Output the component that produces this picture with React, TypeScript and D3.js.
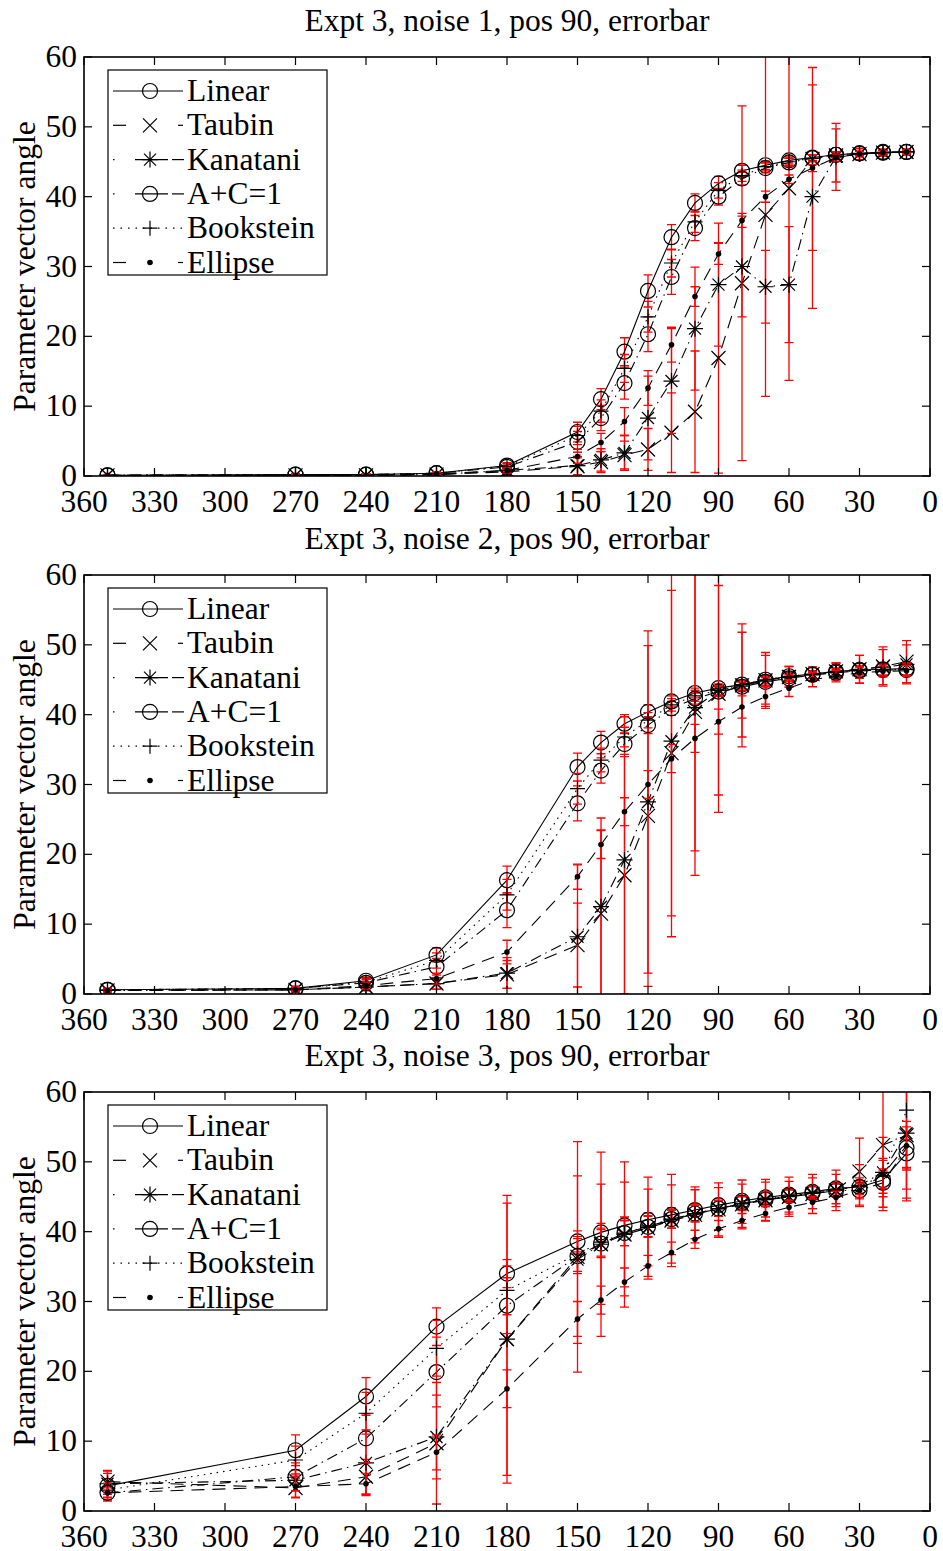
import React from "react";
import * as d3 from "d3";

const X_VALUES = [350, 270, 240, 210, 180, 150, 140, 130, 120, 110, 100, 90, 80, 70, 60, 50, 40, 30, 20, 10];
const X_TICKS = [360, 330, 300, 270, 240, 210, 180, 150, 120, 90, 60, 30, 0];
const Y_TICKS = [0, 10, 20, 30, 40, 50, 60];
const SERIES_NAMES = ["Linear", "Taubin", "Kanatani", "A+C=1", "Bookstein", "Ellipse"];
const TITLES = [
  "Expt 3, noise 1, pos 90, errorbar",
  "Expt 3, noise 2, pos 90, errorbar",
  "Expt 3, noise 3, pos 90, errorbar",
];
const Y_LABEL = "Parameter vector angle";

// ---- Panel 1 (noise 1) ----
const n1Linear = [0.1, 0.2, 0.2, 0.4, 1.5, 6.3, 11.0, 17.8, 26.5, 34.2, 39.1, 41.9, 43.7, 44.5, 45.2, 45.6, 46.0, 46.2, 46.4, 46.4];
const n1Taubin = [0.1, 0.1, 0.1, 0.2, 0.6, 1.4, 2.0, 3.0, 3.8, 6.2, 9.2, 16.9, 27.6, 37.4, 41.2, 45.4, 45.9, 46.1, 46.3, 46.4];
const n1Kanatani = [0.1, 0.1, 0.1, 0.2, 0.8, 1.5, 2.3, 3.3, 8.3, 13.6, 21.1, 27.4, 30.0, 27.1, 27.4, 40.0, 45.7, 46.1, 46.3, 46.4];
const n1AC = [0.1, 0.2, 0.2, 0.4, 1.3, 4.9, 8.3, 13.3, 20.3, 28.5, 35.5, 40.0, 42.6, 44.1, 44.9, 45.5, 46.0, 46.2, 46.3, 46.4];
const n1Bookstein = [0.1, 0.2, 0.2, 0.4, 1.4, 5.8, 9.3, 15.4, 22.8, 30.5, 36.4, 40.9, 43.0, 44.3, 45.0, 45.5, 46.0, 46.2, 46.3, 46.4];
const n1Ellipse = [0.1, 0.1, 0.1, 0.3, 0.8, 2.8, 4.8, 7.8, 12.6, 18.8, 25.7, 31.8, 36.6, 40.0, 42.5, 44.1, 45.6, 46.1, 46.3, 46.4];

const e1Linear = [0.1, 0.1, 0.1, 0.2, 0.4, 1.4, 1.5, 2.0, 2.3, 1.8, 1.3, 1.0, 0.8, 0.6, 0.5, 0.4, 0.4, 0.3, 0.3, 0.3];
const e1Taubin = [0.1, 0.1, 0.1, 0.2, 0.5, 1.2, 1.5, 2.0, 3.0, 5.7, 8.7, 16.5, 25.4, 26.0, 27.5, 13.1, 3.8, 0.8, 0.5, 0.4];
const e1Kanatani = [0.1, 0.1, 0.1, 0.2, 0.5, 1.3, 1.6, 2.5, 6.0, 7.5, 8.8, 8.8, 7.2, 5.2, 8.3, 16.0, 4.8, 0.8, 0.5, 0.4];
const e1AC = [0.1, 0.1, 0.1, 0.2, 0.4, 1.5, 1.8, 2.3, 2.5, 2.5, 1.8, 1.2, 0.9, 0.7, 0.6, 0.5, 0.4, 0.3, 0.3, 0.3];
const e1Bookstein = [0.1, 0.1, 0.1, 0.2, 0.4, 1.3, 1.6, 2.0, 2.2, 2.0, 1.5, 1.1, 0.8, 0.6, 0.5, 0.4, 0.4, 0.3, 0.3, 0.3];
const e1Ellipse = [0.1, 0.1, 0.1, 0.2, 0.4, 1.0, 1.3, 2.0, 2.5, 2.5, 1.4, 1.5, 1.0, 0.8, 0.6, 0.5, 0.5, 0.4, 0.3, 0.3];

// ---- Panel 2 (noise 2) ----
const n2Linear = [0.6, 0.8, 1.9, 5.6, 16.3, 32.5, 36.0, 38.7, 40.4, 41.9, 43.1, 43.8, 44.3, 45.0, 45.5, 45.8, 46.2, 46.4, 46.5, 46.6];
const n2Taubin = [0.5, 0.6, 1.0, 1.5, 2.8, 7.0, 11.5, 17.0, 25.5, 34.5, 40.4, 43.0, 44.2, 44.9, 45.4, 45.8, 46.2, 46.5, 46.9, 47.6];
const n2Kanatani = [0.5, 0.6, 1.0, 1.5, 3.0, 8.2, 12.5, 19.2, 27.5, 36.2, 41.0, 43.5, 44.3, 45.0, 45.5, 45.8, 46.2, 46.5, 46.8, 47.2];
const n2AC = [0.6, 0.8, 1.6, 3.9, 12.0, 27.3, 32.0, 35.8, 38.5, 40.9, 42.3, 43.3, 44.0, 44.7, 45.2, 45.7, 46.0, 46.3, 46.4, 46.4];
const n2Bookstein = [0.6, 0.8, 1.7, 4.8, 14.2, 29.4, 33.5, 36.8, 39.2, 41.4, 42.7, 43.5, 44.1, 44.8, 45.3, 45.7, 46.1, 46.3, 46.4, 46.5];
const n2Ellipse = [0.5, 0.6, 1.2, 2.2, 6.0, 16.8, 21.4, 26.1, 30.0, 33.7, 36.6, 39.0, 41.1, 42.6, 43.8, 45.0, 45.5, 46.0, 46.2, 46.3];

const e2Linear = [0.2, 0.3, 0.5, 1.0, 2.0, 2.0, 1.6, 1.3, 1.0, 0.8, 0.7, 0.6, 0.6, 0.6, 0.5, 0.5, 0.5, 0.6, 0.8, 0.9];
const e2Taubin = [0.2, 0.3, 0.5, 0.8, 2.0, 6.0, 12.0, 17.0, 24.4, 23.3, 23.4, 17.0, 8.8, 4.0, 1.5, 1.0, 1.2, 2.0, 2.8, 3.0];
const e2Kanatani = [0.2, 0.3, 0.5, 0.8, 2.2, 10.3, 12.7, 20.5, 24.5, 28.0, 20.5, 15.0, 7.5, 3.5, 1.4, 1.0, 1.2, 2.0, 2.5, 2.8];
const e2AC = [0.2, 0.3, 0.5, 1.2, 2.5, 2.5, 1.8, 1.5, 1.2, 1.0, 0.8, 0.7, 0.6, 0.6, 0.5, 0.5, 0.5, 0.6, 0.8, 0.9];
const e2Bookstein = [0.2, 0.3, 0.5, 1.1, 2.2, 2.2, 1.7, 1.4, 1.1, 0.9, 0.8, 0.7, 0.6, 0.6, 0.5, 0.5, 0.5, 0.6, 0.8, 0.9];
const e2Ellipse = [0.2, 0.3, 0.5, 0.8, 1.7, 1.8, 2.0, 2.0, 2.0, 2.0, 2.0, 1.8, 1.6, 1.4, 1.2, 1.0, 0.8, 0.8, 0.8, 0.8];

// ---- Panel 3 (noise 3) ----
const n3Linear = [3.6, 8.7, 16.4, 26.4, 34.0, 38.6, 39.9, 40.9, 41.7, 42.4, 43.1, 43.8, 44.4, 44.9, 45.3, 45.7, 46.2, 46.4, 47.4, 51.2];
const n3Taubin = [4.2, 3.3, 4.9, 9.7, 24.6, 36.4, 38.2, 39.6, 40.5, 41.6, 42.4, 43.2, 43.9, 44.5, 45.0, 45.4, 45.9, 48.6, 52.4, 53.8];
const n3Kanatani = [3.9, 4.4, 6.9, 10.6, 24.6, 36.0, 38.2, 39.6, 40.6, 41.7, 42.5, 43.3, 44.0, 44.6, 45.0, 45.5, 45.9, 46.6, 48.5, 54.1];
const n3AC = [2.6, 4.9, 10.4, 19.9, 29.4, 36.5, 38.3, 39.8, 40.7, 41.8, 42.6, 43.3, 44.1, 44.6, 45.1, 45.5, 45.9, 45.9, 47.0, 52.0];
const n3Bookstein = [3.0, 7.3, 14.0, 23.3, 31.6, 36.8, 38.5, 39.8, 40.8, 41.8, 42.6, 43.3, 44.0, 44.7, 45.1, 45.6, 46.0, 46.5, 48.0, 57.4];
const n3Ellipse = [2.6, 3.5, 3.9, 8.4, 17.5, 27.5, 30.2, 32.8, 35.1, 37.0, 38.9, 40.4, 41.6, 42.6, 43.5, 44.2, 44.9, 45.9, 48.2, 52.3];

const e3Linear = [2.2, 2.2, 2.7, 2.7, 2.0, 1.5, 1.3, 1.2, 1.0, 1.0, 0.9, 0.9, 0.8, 0.8, 0.8, 0.8, 0.8, 0.9, 1.3, 2.0];
const e3Taubin = [1.5, 1.4, 2.5, 8.7, 20.6, 16.5, 13.2, 10.4, 7.3, 6.6, 4.0, 3.8, 3.5, 3.0, 2.8, 2.8, 2.9, 4.8, 9.4, 9.0];
const e3Kanatani = [1.5, 1.5, 4.7, 6.0, 19.5, 12.0, 8.6, 7.5, 5.5, 5.0, 3.5, 3.0, 2.8, 2.5, 2.2, 2.2, 2.3, 3.0, 5.0, 8.0];
const e3AC = [1.0, 2.0, 3.5, 5.0, 4.0, 2.5, 2.0, 1.8, 1.5, 1.3, 1.2, 1.1, 1.0, 1.0, 0.9, 0.9, 0.9, 1.2, 2.0, 3.0];
const e3Bookstein = [1.0, 2.0, 3.0, 4.0, 3.5, 2.5, 2.0, 1.8, 1.5, 1.3, 1.2, 1.1, 1.0, 1.0, 0.9, 0.9, 0.9, 1.2, 2.5, 13.0];
const e3Ellipse = [0.7, 1.5, 1.5, 2.5, 2.7, 2.5, 2.0, 2.0, 1.5, 1.5, 1.3, 1.2, 1.0, 1.0, 1.0, 0.9, 0.9, 1.0, 2.0, 3.5];

const PANEL_VALUES = [
  [n1Linear, n1Taubin, n1Kanatani, n1AC, n1Bookstein, n1Ellipse],
  [n2Linear, n2Taubin, n2Kanatani, n2AC, n2Bookstein, n2Ellipse],
  [n3Linear, n3Taubin, n3Kanatani, n3AC, n3Bookstein, n3Ellipse],
];
const PANEL_ERRORS = [
  [e1Linear, e1Taubin, e1Kanatani, e1AC, e1Bookstein, e1Ellipse],
  [e2Linear, e2Taubin, e2Kanatani, e2AC, e2Bookstein, e2Ellipse],
  [e3Linear, e3Taubin, e3Kanatani, e3AC, e3Bookstein, e3Ellipse],
];

// ---- styles ----
const FONT = "'Liberation Serif', 'Times New Roman', serif";
const FS = 31.5;
const LEFT = 84;
const RIGHT = 930;
const TOPS = [57, 575, 1092];
const PH = 419;

type Style = { dash: string | undefined; marker: string };
const STYLES: Style[] = [
  { dash: undefined, marker: "circle" },
  { dash: "13,8", marker: "x" },
  { dash: "11,5,1.5,5", marker: "asterisk" },
  { dash: "11,5,1.5,5", marker: "circle" },
  { dash: "1.5,5", marker: "plus" },
  { dash: "13,8", marker: "dot" },
];

function Marker({ type, x, y }: { type: string; x: number; y: number }) {
  const s = { stroke: "#000", strokeWidth: 1.2, fill: "none" };
  if (type === "circle") return <circle cx={x} cy={y} r={7.5} {...s} />;
  if (type === "dot") return <circle cx={x} cy={y} r={2.8} fill="#000" />;
  if (type === "x") {
    const a = 7;
    return <path d={`M${x - a},${y - a}L${x + a},${y + a}M${x - a},${y + a}L${x + a},${y - a}`} {...s} />;
  }
  if (type === "plus") {
    const a = 7.5;
    return <path d={`M${x - a},${y}L${x + a},${y}M${x},${y - a}L${x},${y + a}`} {...s} />;
  }
  // asterisk
  const a = 8;
  const b = 6;
  return (
    <path
      d={`M${x - a},${y}L${x + a},${y}M${x},${y - a}L${x},${y + a}M${x - b},${y - b}L${x + b},${y + b}M${x - b},${y + b}L${x + b},${y - b}`}
      {...s}
    />
  );
}

function LegendSample({ idx, y }: { idx: number; y: number }) {
  const x0 = 113;
  const x1 = 183;
  const xm = 150;
  const st = { stroke: "#000", strokeWidth: 1.2, fill: "none" };
  let lines: React.ReactNode = null;
  if (idx === 0) lines = <line x1={x0} x2={x1} y1={y} y2={y} {...st} />;
  else if (idx === 1 || idx === 5)
    lines = (
      <g>
        <line x1={x0} x2={x0 + 13} y1={y} y2={y} {...st} />
        <line x1={x1 - 5} x2={x1} y1={y} y2={y} {...st} />
      </g>
    );
  else if (idx === 2 || idx === 3)
    lines = (
      <g>
        <line x1={x0} x2={x0 + 1.5} y1={y} y2={y} {...st} />
        <line x1={x0 + 22} x2={x0 + 55} y1={y} y2={y} {...st} />
        <line x1={x0 + 59} x2={x0 + 71} y1={y} y2={y} {...st} />
      </g>
    );
  else
    lines = <line x1={x0} x2={x1} y1={y} y2={y} {...st} strokeDasharray="1.5,6" />;
  return (
    <g>
      {lines}
      <Marker type={STYLES[idx].marker} x={xm} y={y} />
    </g>
  );
}

function Panel({ p }: { p: number }) {
  const top = TOPS[p];
  const bottom = top + PH;
  const xs = d3.scaleLinear().domain([360, 0]).range([LEFT, RIGHT]);
  const ys = d3.scaleLinear().domain([0, 60]).range([bottom, top]);
  const line = d3
    .line<number>()
    .x((_, i) => xs(X_VALUES[i]))
    .y((d) => ys(d));
  const clipId = `clip${p}`;
  const tl = 8;
  const legTop = top + 13;
  const rowH = 34.3;
  return (
    <g>
      <defs>
        <clipPath id={clipId}>
          <rect x={LEFT} y={top} width={RIGHT - LEFT} height={PH} />
        </clipPath>
      </defs>
      <text x={(LEFT + RIGHT) / 2} y={top - 26} textAnchor="middle" fontFamily={FONT} fontSize={FS}>
        {TITLES[p]}
      </text>
      <text
        transform={`translate(35,${(top + bottom) / 2}) rotate(-90)`}
        textAnchor="middle"
        fontFamily={FONT}
        fontSize={FS}
      >
        {Y_LABEL}
      </text>
      <g clipPath={`url(#${clipId})`}>
        {SERIES_NAMES.map((name, si) => {
          const vals = PANEL_VALUES[p][si];
          const errs = PANEL_ERRORS[p][si];
          return (
            <g key={name}>
              <g stroke="#ff0000" strokeWidth={1.3} fill="none">
                {vals.map((v, i) => {
                  const x = xs(X_VALUES[i]);
                  const y1 = ys(v - errs[i]);
                  const y2 = ys(v + errs[i]);
                  return (
                    <path
                      key={i}
                      d={`M${x},${y1}L${x},${y2}M${x - 4.5},${y1}L${x + 4.5},${y1}M${x - 4.5},${y2}L${x + 4.5},${y2}`}
                    />
                  );
                })}
              </g>
              <path
                d={line(vals) || ""}
                fill="none"
                stroke="#000"
                strokeWidth={1.1}
                strokeDasharray={STYLES[si].dash}
              />
              {vals.map((v, i) => (
                <Marker key={i} type={STYLES[si].marker} x={xs(X_VALUES[i])} y={ys(v)} />
              ))}
            </g>
          );
        })}
      </g>
      {/* axes box */}
      <rect x={LEFT} y={top} width={RIGHT - LEFT} height={PH} fill="none" stroke="#000" strokeWidth={1.6} />
      {X_TICKS.map((t) => (
        <g key={`x${t}`}>
          <line x1={xs(t)} x2={xs(t)} y1={bottom} y2={bottom - tl} stroke="#000" strokeWidth={1.2} />
          <line x1={xs(t)} x2={xs(t)} y1={top} y2={top + tl} stroke="#000" strokeWidth={1.2} />
          <text x={xs(t)} y={bottom + 36} textAnchor="middle" fontFamily={FONT} fontSize={FS}>
            {t}
          </text>
        </g>
      ))}
      {Y_TICKS.map((t) => (
        <g key={`y${t}`}>
          <line x1={LEFT} x2={LEFT + tl} y1={ys(t)} y2={ys(t)} stroke="#000" strokeWidth={1.2} />
          <line x1={RIGHT} x2={RIGHT - tl} y1={ys(t)} y2={ys(t)} stroke="#000" strokeWidth={1.2} />
          <text x={LEFT - 7} y={ys(t) + 10} textAnchor="end" fontFamily={FONT} fontSize={FS}>
            {t}
          </text>
        </g>
      ))}
      {/* legend */}
      <rect x={108} y={legTop} width={219} height={205} fill="#fff" stroke="#000" strokeWidth={1.2} />
      {SERIES_NAMES.map((name, i) => {
        const y = legTop + 21 + i * rowH;
        return (
          <g key={`leg${name}`}>
            <LegendSample idx={i} y={y} />
            <text x={187} y={y + 10} fontFamily={FONT} fontSize={FS}>
              {name}
            </text>
          </g>
        );
      })}
    </g>
  );
}

export default function App() {
  return (
    <svg
      width={943}
      height={1551}
      style={{ position: "absolute", left: 0, top: 0, background: "#fff" }}
    >
      <rect width={943} height={1551} fill="#fff" />
      {[0, 1, 2].map((p) => (
        <Panel key={p} p={p} />
      ))}
    </svg>
  );
}
